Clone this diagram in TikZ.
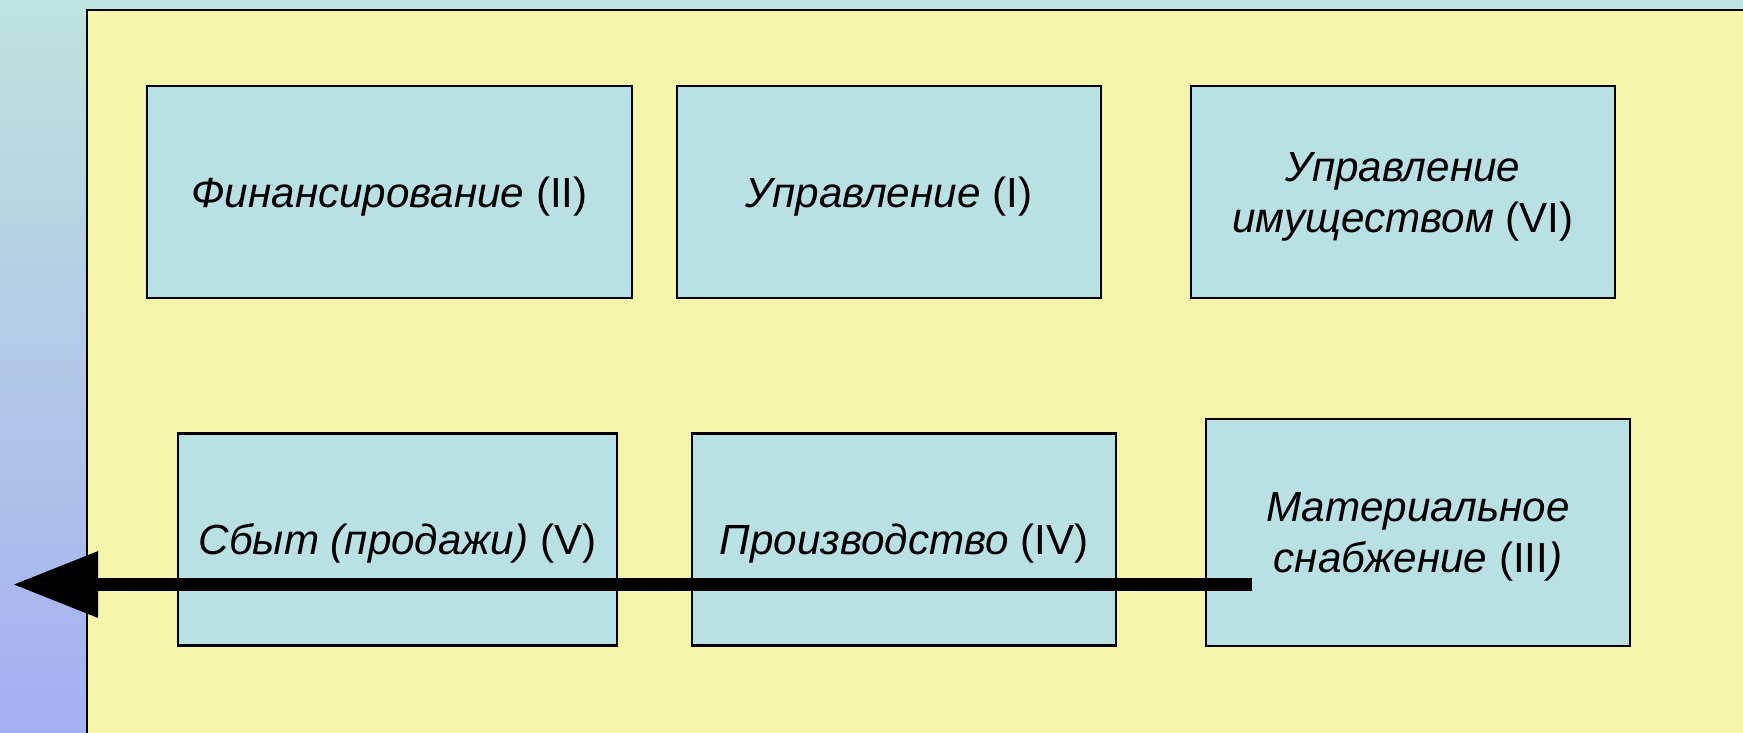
\documentclass[tikz,border=0pt]{standalone}
\usepackage{fontspec}
\setmainfont{Liberation Sans}
\usepackage{xcolor}
\usepackage{tikz}
\usetikzlibrary{arrows.meta}
\definecolor{panel}{HTML}{F4F5AA}
\definecolor{boxfill}{HTML}{B9E0E3}
\definecolor{bgtop}{HTML}{BEE3DC}
\definecolor{bgbot}{HTML}{A4AFF2}
\tikzset{
  func/.style={draw=black, line width=0.8pt, fill=boxfill, minimum height=21.2mm,
    align=center, inner sep=0pt, text depth=0pt, font=\fontsize{12}{14.5}\selectfont},
  flow/.style={line width=3.7pt, -{Triangle[length=8.5mm,width=6.3mm]}}
}

\begin{document}
\begin{tikzpicture}[x=0.1mm, y=-0.1mm]
\useasboundingbox (0,0) rectangle (1743,732);
% background and panel
\shade[top color=bgtop, bottom color=bgbot] (0,0) rectangle (1743,732);
\begin{scope}
\clip (0,0) rectangle (1743,732);
\fill[panel] (87,10) rectangle (1800,800);
\draw[line width=0.8pt] (87,800) -- (87,10) -- (1800,10);
\end{scope}

% upper row
\node[func, minimum width=48.5mm] (fin) at (389.5,192) {\textit{Финансирование} (II)};
\node[func, minimum width=42.4mm] (upr) at (889,192) {\textit{Управление} (I)};
\node[func, minimum width=42.4mm] (imu) at (1403,192) {\textit{Управление}\\\textit{имуществом} (VI)};

% lower row
\node[func, minimum width=43.9mm] (sbyt) at (397.5,539.5) {\textit{Сбыт (продажи)} (V)};
\node[func, minimum width=42.4mm] (proizv) at (904,539.5) {\textit{Производство} (IV)};
\node[func, minimum width=42.4mm, minimum height=22.7mm] (snab) at (1418,532.5) {\textit{Материальное}\\\textit{снабжение} (III\textit{)}};

% flow arrow
\coordinate (flowstart) at (1252,584.5);
\coordinate (flowend) at (13,584.5);
\draw[flow] (flowstart) -- (flowend);
\end{tikzpicture}
\end{document}
